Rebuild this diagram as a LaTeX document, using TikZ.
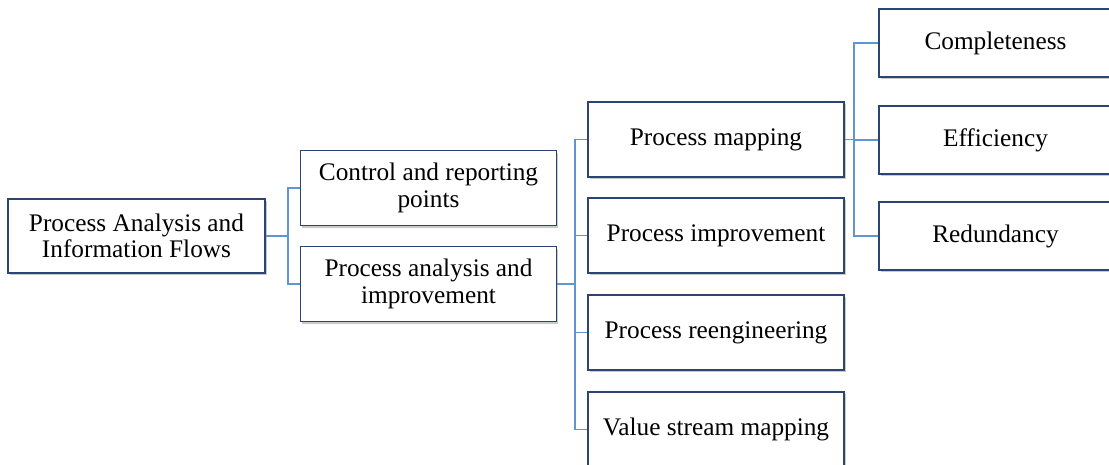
\documentclass[tikz,border=0pt]{standalone}
\usepackage{fontspec}
\setmainfont{Liberation Serif}
\usetikzlibrary{shadows,calc}
\definecolor{boxline}{RGB}{44,68,116}
\definecolor{conn}{RGB}{96,150,206}
\tikzset{
  box/.style={draw=boxline, line width=1.2pt, fill=white, rectangle, align=center,
    inner sep=0pt, font=\fontsize{25.3}{26.5}\selectfont,
    drop shadow={shadow xshift=1.8pt, shadow yshift=-2.2pt, opacity=0.35, fill=black!60}},
  midbox/.style={box, minimum width=256pt, minimum height=75pt},
  leafbox/.style={box, minimum width=233pt, minimum height=68pt},
  link/.style={draw=conn, line width=1.2pt}
}
\begin{document}
\begin{tikzpicture}[x=1pt,y=-1pt]
\useasboundingbox (0,0) rectangle (1109,464);
\clip (0,0) rectangle (1109,464);
\node[box, minimum width=257pt, minimum height=74pt] (root) at (136.5,236) {Process Analysis and\\Information Flows};
\node[midbox] (ctrl) at (428.5,188) {Control and reporting\\points};
\node[midbox] (pa) at (428.5,284) {Process analysis and\\improvement};
\node[midbox] (pm) at (716,139.5) {Process mapping};
\node[midbox] (pi) at (716,235.5) {Process improvement};
\node[midbox] (pr) at (716,332.5) {Process reengineering};
\node[midbox] (vs) at (716,429.5) {Value stream mapping};
\node[leafbox] (comp) at (995.5,43) {Completeness};
\node[leafbox] (eff) at (995.5,140) {Efficiency};
\node[leafbox] (red) at (995.5,236) {Redundancy};
\coordinate (b1) at (288,0);
\coordinate (b2) at (575,0);
\coordinate (b3) at (854,0);
\foreach \c in {ctrl,pa} \draw[link] (root.east) -- (root.east -| b1) |- (\c.west);
\foreach \c in {pm,pi,pr,vs} \draw[link] (pa.east) -- (pa.east -| b2) |- (\c.west);
\foreach \c in {comp,eff,red} \draw[link] (pm.east) -- (pm.east -| b3) |- (\c.west);
\end{tikzpicture}
\end{document}
